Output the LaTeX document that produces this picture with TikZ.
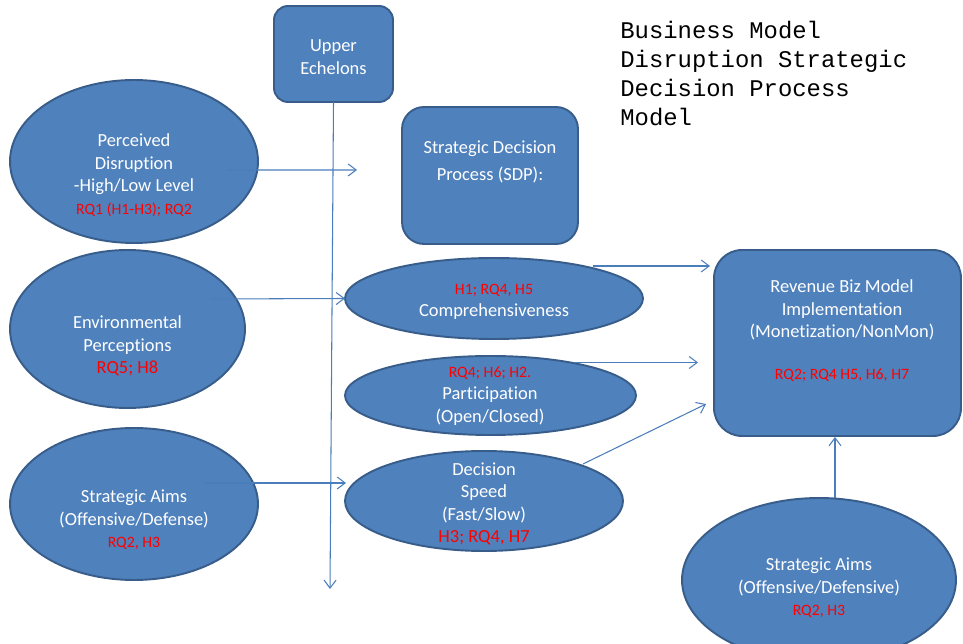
\documentclass[tikz,border=0pt]{standalone}
\usepackage{fontspec}
\setmainfont{Carlito}[Ligatures=NoCommon]
\newfontfamily\courierfont{Liberation Mono}
\usetikzlibrary{shapes.geometric,arrows.meta}
\definecolor{ppblue}{RGB}{79,129,189}
\definecolor{ppedge}{RGB}{56,93,138}
\definecolor{pparrow}{RGB}{74,126,187}
\newcommand{\hyptag}[1]{{\color{red}\fontsize{9}{11}\selectfont #1}}
\newcommand{\hyptagbig}[1]{{\color{red}#1}}

\begin{document}
\begin{tikzpicture}[x=0.02cm,y=-0.02cm,
	blob/.style={ellipse,draw=ppedge,fill=ppblue,line width=1.1pt,inner sep=0pt,outer sep=0pt},
	panel/.style={rectangle,draw=ppedge,fill=ppblue,line width=1.1pt,inner sep=0pt,outer sep=0pt},
	words/.style={text=white,align=center,inner sep=0pt,font=\fontsize{10.5}{12.8}\selectfont},
	link/.style={draw=pparrow,line width=0.6pt,-{Straight Barb[length=1.6mm,width=2.4mm]}}]
	
	\path[use as bounding box,clip] (0,0) rectangle (963,644);
	
	\node[panel,rounded corners=0.28cm,minimum width=2.38cm,minimum height=1.92cm] (upper) at (333.5,54) {};
	\node[words] (upper-t) at (333.5,57) {Upper\\Echelons};
	\node[panel,rounded corners=0.44cm,minimum width=3.52cm,minimum height=2.74cm] (sdp) at (490,175.5) {};
	\node[words] (sdp-t) at (490,162) {Strategic Decision\\[3pt]Process (SDP):};
	\node[panel,rounded corners=0.56cm,minimum width=4.94cm,minimum height=3.72cm] (rev) at (837.5,343) {};
	\node[words] (rev-t) at (842,331) {Revenue Biz Model\\Implementation\\(Monetization/NonMon)\\[11pt]\hyptag{RQ2; RQ4 H5, H6, H7}};
	
	\node[blob,minimum width=4.96cm,minimum height=3.26cm] (perc) at (134,161.5) {};
	\node[words] (perc-t) at (134,175) {Perceived\\Disruption\\-High/Low Level\\\hyptag{RQ1 (H1-H3); RQ2}};
	\node[blob,minimum width=4.70cm,minimum height=3.16cm] (env) at (127.5,329) {};
	\node[words] (env-t) at (127.5,346) {Environmental\\Perceptions\\\hyptagbig{RQ5; H8}};
	\node[blob,minimum width=4.96cm,minimum height=3.04cm] (aimsL) at (134,504) {};
	\node[words] (aimsL-t) at (134,520) {Strategic Aims\\(Offensive/Defense)\\\hyptag{RQ2, H3}};
	
	\node[blob,minimum width=5.96cm,minimum height=1.62cm] (comp) at (494,298.5) {};
	\node[words] (comp-t) at (494,302) {\hyptag{H1; RQ4, H5}\\Comprehensiveness};
	\node[blob,minimum width=5.82cm,minimum height=1.58cm] (part) at (490.5,395.5) {};
	\node[words] (part-t) at (490,396) {\hyptag{RQ4; H6; H2.}\\Participation\\(Open/Closed)};
	\node[blob,minimum width=5.56cm,minimum height=2.0cm] (speed) at (484,501) {};
	\node[words] (speed-t) at (484,504) {Decision\\Speed\\(Fast/Slow)\\\hyptagbig{H3; RQ4, H7}};
	\node[blob,minimum width=5.48cm,minimum height=3.28cm] (aimsR) at (819,580) {};
	\node[words] (aimsR-t) at (819,588) {Strategic Aims\\(Offensive/Defensive)\\\hyptag{RQ2, H3}};
	
	\node[anchor=north west,inner sep=0pt,align=left,font=\courierfont\fontsize{13.6}{16.5}\selectfont] (title) at (620,21) {Business Model\\Disruption Strategic\\Decision Process\\Model};
	
	\coordinate (sdpIn) at (357,170);
	\coordinate (ueEnd) at (330,589);
	
	\draw[link] (upper.south) -- (ueEnd);
	\draw[link] ([shift={(93,8.5)}]perc.center) -- (sdpIn);
	\draw[link] ([shift={(82.5,-30)}]env.center) -- (comp.west);
	\draw[link] ([shift={(69,-21)}]aimsL.center) -- ([shift={(-138,-18)}]speed.center);
	\draw[link] ([shift={(99,-32.5)}]comp.center) -- ([shift={(-4,-77)}]rev.west);
	\draw[link] ([shift={(83,-33)}]part.center) -- ([shift={(-16,19.5)}]rev.west);
	\draw[link] ([shift={(99,-37)}]speed.center) -- ([shift={(-8,61)}]rev.west);
	\draw[link] ([shift={(16,-82)}]aimsR.center) -- ([shift={(-2.5,1)}]rev.south);
	
\end{tikzpicture}
\end{document}
